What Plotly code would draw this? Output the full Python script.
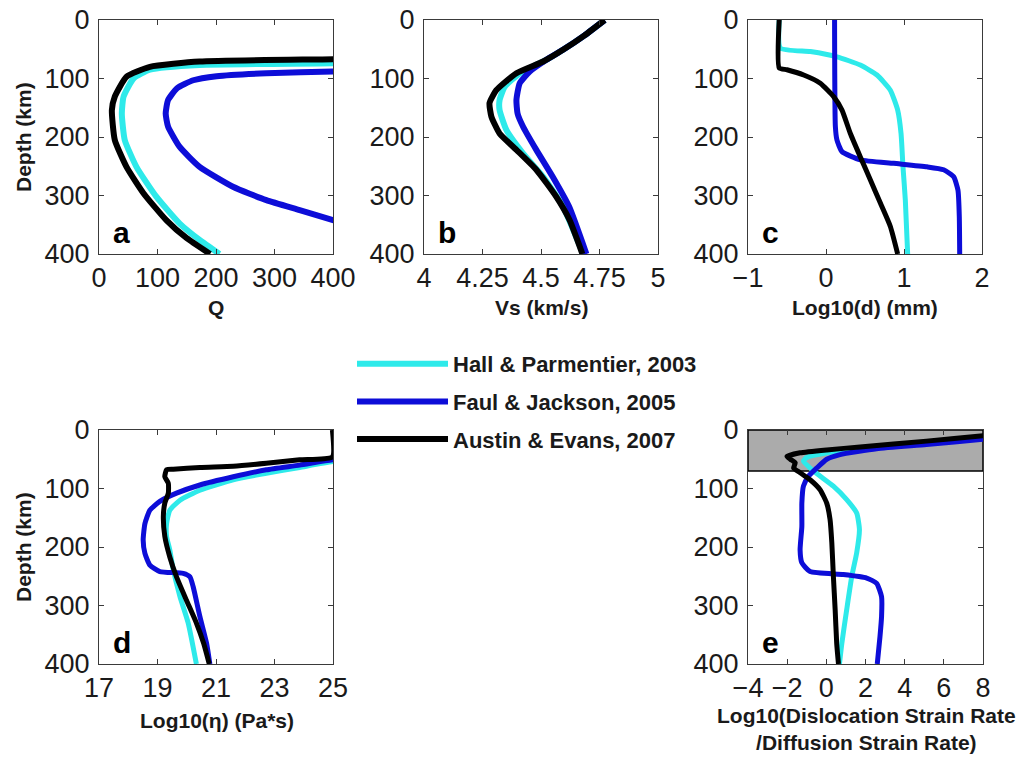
import plotly.graph_objects as go

# ---------------- data ----------------
series_names = ["Hall & Parmentier, 2003", "Faul & Jackson, 2005", "Austin & Evans, 2007"]
series_colors = ["#2eeaea", "#0d0dd8", "#000000"]

# panel a : Q vs depth
a_hall_q = [700, 400, 172, 87, 59, 42, 39, 44, 64, 98, 138, 172, 206]
a_hall_z = [68, 74, 77, 85, 100, 131, 160, 205, 251, 302, 348, 376, 400]
a_faul_q = [700, 400, 286, 201, 161, 133, 118, 114, 118, 138, 172, 229, 286, 343, 400, 460]
a_faul_z = [85, 88, 91, 96, 103, 117, 137, 160, 182, 217, 251, 285, 308, 325, 342, 360]
a_aust_q = [700, 400, 172, 87, 47, 27, 22, 27, 47, 76, 115, 150, 190]
a_aust_z = [62, 67, 71, 80, 97, 131, 154, 205, 251, 296, 342, 373, 400]

# panel b : Vs vs depth
b_hall_v = [4.772, 4.68, 4.594, 4.523, 4.41, 4.345, 4.323, 4.323, 4.352, 4.423, 4.509, 4.594, 4.68]
b_hall_z = [0, 28, 51, 68, 91, 114, 137, 154, 188, 228, 268, 319, 400]
b_faul_v = [4.772, 4.68, 4.594, 4.523, 4.452, 4.409, 4.395, 4.40, 4.423, 4.48, 4.55, 4.62, 4.694]
b_faul_z = [0, 28, 51, 68, 88, 108, 137, 160, 182, 222, 268, 319, 400]
b_aust_v = [4.772, 4.68, 4.594, 4.509, 4.395, 4.309, 4.28, 4.288, 4.323, 4.395, 4.48, 4.565, 4.622, 4.677]
b_aust_z = [0, 28, 51, 71, 91, 120, 142, 165, 194, 222, 256, 302, 342, 400]

# panel c : log10 grain size vs depth
c_hall_d = [-0.6, -0.585, -0.2, 0.141, 0.44, 0.654, 0.825, 0.919, 0.962, 0.987, 1.017, 1.047]
c_hall_z = [0, 48, 54, 63, 77, 94, 120, 154, 194, 251, 308, 400]
c_faul_d = [0.11, 0.12, 0.14, 0.205, 0.44, 0.867, 1.295, 1.508, 1.637, 1.692, 1.709, 1.714]
c_faul_z = [0, 182, 205, 225, 239, 245, 251, 256, 268, 291, 336, 400]
c_aust_d = [-0.6, -0.6, -0.5, -0.286, -0.073, 0.098, 0.205, 0.312, 0.44, 0.568, 0.697, 0.825, 0.919]
c_aust_z = [0, 82, 85, 94, 108, 131, 154, 194, 234, 273, 313, 353, 400]

# panel d : log10 viscosity vs depth
d_hall_eta = [26, 25, 23.86, 22.72, 21.59, 20.45, 19.77, 19.42, 19.31, 19.31, 19.42, 19.54, 19.77, 20.05, 20.33]
d_hall_z = [50, 54, 64, 74, 85, 103, 120, 137, 160, 182, 205, 239, 285, 330, 400]
d_faul_eta = [26, 25, 23.86, 22.72, 21.59, 20.45, 19.65, 19.08, 18.74, 18.57, 18.51, 18.57, 18.74, 19.08, 19.88, 20.11, 20.22, 20.45, 20.68, 20.79]
d_faul_z = [47, 51, 60, 68, 80, 94, 108, 122, 137, 160, 188, 211, 231, 242, 245, 251, 268, 319, 365, 400]
d_aust_eta = [24.98, 24.98, 23.86, 22.72, 21.59, 20.45, 19.54, 19.31, 19.25, 19.37, 19.37, 19.25, 19.2, 19.25, 19.42, 19.65, 19.99, 20.33, 20.58, 20.77]
d_aust_z = [0, 46, 51, 57, 62, 64, 67, 68, 80, 91, 108, 125, 148, 182, 217, 251, 291, 330, 365, 400]

# panel e : log10(dislocation / diffusion strain rate) vs depth
e_hall_r = [9, 8, 5.11, 1.72, 0.02, -1.0, -1.17, -0.66, 0.36, 1.04, 1.55, 1.69, 1.55, 1.30, 1.04, 0.79, 0.67]
e_hall_z = [11, 13, 22, 32, 39, 47, 53, 70, 96, 119, 142, 170, 210, 250, 307, 365, 400]
e_faul_r = [9, 8, 5.11, 2.57, 0.70, 0.02, -0.49, -0.91, -1.17, -1.25, -1.25, -1.34, -1.25, -0.83, 0.87, 2.06, 2.57, 2.82, 2.82, 2.74, 2.6]
e_faul_z = [14, 16, 25, 32, 42, 50, 65, 79, 96, 125, 165, 205, 227, 242, 247, 253, 262, 285, 319, 353, 400]
e_aust_r = [9, 8, 5.11, 1.72, 0.02, -1.34, -2.01, -1.84, -1.59, -1.67, -1.34, -0.83, -0.32, 0.02, 0.19, 0.28, 0.36, 0.45, 0.53, 0.62]
e_aust_z = [8, 10, 19, 29, 34, 39, 45, 50, 56, 65, 73, 85, 102, 125, 153, 193, 250, 307, 365, 400]
e_lid_depth = 70

depth_ticks = [0, 100, 200, 300, 400]
a_ticks = [0, 100, 200, 300, 400]
b_ticks = [4, 4.25, 4.5, 4.75, 5]
b_ticklabels = ["4", "4.25", "4.5", "4.75", "5"]
c_ticks = [-1, 0, 1, 2]
d_ticks = [17, 19, 21, 23, 25]
e_ticks = [-4, -2, 0, 2, 4, 6, 8]

panel_labels = ["a", "b", "c", "d", "e"]
x_titles = ["Q", "Vs (km/s)", "Log10(d) (mm)", "Log10(η) (Pa*s)"]
e_title_lines = ["Log10(Dislocation Strain Rate", "/Diffusion Strain Rate)"]
y_title = "Depth (km)"

# ---------------- layout ----------------
W, H = 1025, 758
FONT = "Liberation Sans, Arial, sans-serif"

def px_x(p):
    return p / W

def px_y(p):
    return 1 - p / H

dom_x = {
    "a": [px_x(99), px_x(333)],
    "b": [px_x(424), px_x(658)],
    "c": [px_x(748), px_x(982)],
    "d": [px_x(99), px_x(333)],
    "e": [px_x(748), px_x(983)],
}
dom_y_top = [px_y(254), px_y(20)]
dom_y_bot = [px_y(664), px_y(430)]

fig = go.Figure()

panels = [
    ("a", "x", "y", [(a_hall_q, a_hall_z), (a_faul_q, a_faul_z), (a_aust_q, a_aust_z)], [0, 400], a_ticks, None, dom_y_top, 6),
    ("b", "x2", "y2", [(b_hall_v, b_hall_z), (b_faul_v, b_faul_z), (b_aust_v, b_aust_z)], [4, 5], b_ticks, b_ticklabels, dom_y_top, 6),
    ("c", "x3", "y3", [(c_hall_d, c_hall_z), (c_faul_d, c_faul_z), (c_aust_d, c_aust_z)], [-1, 2], c_ticks, None, dom_y_top, 5),
    ("d", "x4", "y4", [(d_hall_eta, d_hall_z), (d_faul_eta, d_faul_z), (d_aust_eta, d_aust_z)], [17, 25], d_ticks, None, dom_y_bot, 5),
    ("e", "x5", "y5", [(e_hall_r, e_hall_z), (e_faul_r, e_faul_z), (e_aust_r, e_aust_z)], [-4, 8], e_ticks, None, dom_y_bot, 5),
]

axis_common = dict(
    showline=True, linecolor="#3a3a3a", linewidth=1, mirror="ticks",
    ticks="inside", ticklen=5, tickcolor="#3a3a3a", tickwidth=1,
    showgrid=False, zeroline=False, automargin=False,
    ticklabeloverflow="allow",
    tickfont=dict(family=FONT, size=27, color="#1a1a1a"),
)

for pi, (lab, xa, ya, data, xr, xt, xtl, ydom, lw) in enumerate(panels):
    for si, (xs, zs) in enumerate(data):
        fig.add_trace(go.Scatter(
            x=xs, y=zs, mode="lines", xaxis=xa, yaxis=ya,
            line=dict(color=series_colors[si], width=lw, shape="spline", smoothing=0.5),
            name="<b>%s</b>" % series_names[si], legendgroup=series_names[si],
            showlegend=(pi == 0), hoverinfo="skip",
        ))
    xkey = "xaxis" if xa == "x" else "xaxis" + xa[1:]
    ykey = "yaxis" if ya == "y" else "yaxis" + ya[1:]
    xaxis = dict(axis_common, domain=dom_x[lab], range=xr, tickvals=xt, anchor=ya, ticklabelstandoff=0)
    if xtl is not None:
        xaxis["ticktext"] = xtl
    yaxis = dict(axis_common, domain=ydom, range=[400, 0], tickvals=depth_ticks, anchor=xa, ticklabelstandoff=3)
    fig.update_layout({xkey: xaxis, ykey: yaxis})
    fig.add_annotation(
        text="<b>%s</b>" % panel_labels[pi], xref=xa + " domain", yref=ya + " domain",
        x=0.053, y=0.09, xanchor="left", yanchor="middle", showarrow=False,
        font=dict(family=FONT, size=30, color="#000"),
    )

# grey lid in panel e
fig.add_shape(type="rect", xref="x5 domain", yref="y5", x0=0, x1=1, y0=0, y1=e_lid_depth,
              fillcolor="#ababab", line=dict(color="#000", width=1.5), layer="below")

title_font = dict(family=FONT, size=21, color="#1a1a1a")
# x-axis titles
for (cx, cy, t) in [(216, 308, x_titles[0]), (541, 308, x_titles[1]), (865, 308, x_titles[2]), (217, 720, x_titles[3])]:
    fig.add_annotation(text="<b>%s</b>" % t, xref="paper", yref="paper", x=px_x(cx), y=px_y(cy),
                       xanchor="center", yanchor="middle", showarrow=False, font=title_font)
fig.add_annotation(text="<b>%s</b><br><b>%s</b>" % tuple(e_title_lines), xref="paper", yref="paper",
                   x=px_x(866), y=px_y(729), xanchor="center", yanchor="middle", showarrow=False,
                   font=title_font)
# y-axis titles
for cy in [137, 547]:
    fig.add_annotation(text="<b>%s</b>" % y_title, xref="paper", yref="paper", x=px_x(23), y=px_y(cy),
                       xanchor="center", yanchor="middle", textangle=-90, showarrow=False, font=title_font)

fig.update_layout(
    width=W, height=H, margin=dict(l=0, r=0, t=0, b=0, autoexpand=False),
    paper_bgcolor="white", plot_bgcolor="white",
    showlegend=True,
    legend=dict(
        x=px_x(352), y=px_y(343), xanchor="left", yanchor="top",
        font=dict(family=FONT, size=22, color="#1a1a1a"),
        itemwidth=91, tracegroupgap=6, bgcolor="rgba(0,0,0,0)",
        traceorder="grouped",
    ),
    font=dict(family=FONT),
)

fig.write_html("out.html", config={"displayModeBar": False},
               post_script="document.body.style.margin='0px';")
